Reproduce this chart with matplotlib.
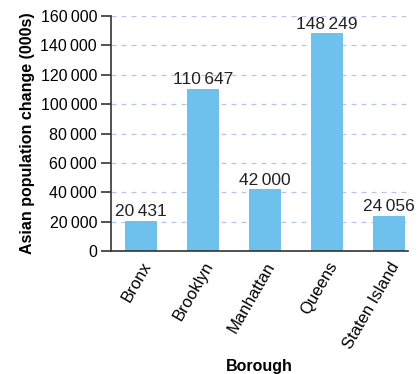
import matplotlib
matplotlib.use("Agg")
import matplotlib.pyplot as plt
from matplotlib.ticker import FuncFormatter

boroughs = ["Bronx", "Brooklyn", "Manhattan", "Queens", "Staten Island"]
change = [20431, 110647, 42000, 148249, 24056]
yticks = [0, 20000, 40000, 60000, 80000, 100000, 120000, 140000, 160000]

plt.rcParams["font.family"] = ["Liberation Sans", "DejaVu Sans"]


def thin(v, pos=None):
    return f"{int(v):,}".replace(",", "\u2009")


fig = plt.figure(figsize=(4.17, 3.74), dpi=100)
ax = fig.add_axes([0.266, 0.329, 0.712, 0.628])

x = range(len(boroughs))
bars = ax.bar(x, change, width=0.52, color="#6ec1ec", zorder=2)

for b, v in zip(bars, change):
    ax.text(b.get_x() + b.get_width() / 2, v + 1200, thin(v),
            ha="center", va="bottom", fontsize=12.5, color="#222222")

ax.set_ylim(0, 160000)
ax.set_xlim(-0.48, 4.3)
ax.set_yticks(yticks)
ax.yaxis.set_major_formatter(FuncFormatter(thin))
ax.set_xticks(list(x))
ax.set_xticklabels(boroughs, rotation=60, ha="right", rotation_mode="anchor")

ax.yaxis.grid(True, linestyle=(0, (4, 4)), color="#b7c6e8", linewidth=0.9, zorder=0)
ax.set_axisbelow(True)

for s in ["top", "right"]:
    ax.spines[s].set_visible(False)
for s in ["left", "bottom"]:
    ax.spines[s].set_linewidth(1.2)
    ax.spines[s].set_color("#333333")

ax.tick_params(axis="y", length=7, width=1.2, color="#333333", labelsize=11.5, pad=3)
ax.tick_params(axis="x", length=0, labelsize=12, pad=6)

ax.set_ylabel("Asian population change (000s)", fontsize=11.5, fontweight="bold", labelpad=4)
ax.set_xlabel("Borough", fontsize=11.5, fontweight="bold", labelpad=6)

fig.savefig("out.png", dpi=100)
